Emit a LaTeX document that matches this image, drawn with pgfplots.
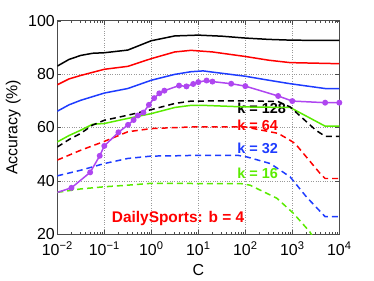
\documentclass[border=0pt]{standalone}
\usepackage{pgfplots}
\pgfplotsset{compat=1.18}
\usepackage{fontspec}
\setmainfont{Liberation Sans}
\definecolor{mblue}{RGB}{30,60,255}
\definecolor{mgreen}{RGB}{90,235,0}
\definecolor{mpurple}{RGB}{175,70,240}
\begin{document}
\begin{tikzpicture}
\useasboundingbox (-57.3bp,-46.7bp) rectangle (316.7bp,234.3bp);
\begin{axis}[
  at={(0,0)}, anchor=south west,
  scale only axis, width=282bp, height=213.6bp,
  xmode=log, xmin=0.01, xmax=10000, ymin=20, ymax=100,
  xtick={0.01,0.1,1,10,100,1000,10000},
  xticklabels={10\textsuperscript{−2},10\textsuperscript{−1},10\textsuperscript{0},10\textsuperscript{1},10\textsuperscript{2},10\textsuperscript{3},10\textsuperscript{4}},
  ytick={20,40,60,80,100},
  yticklabels={20,40,60,80,100},
  tick label style={font=\fontsize{16}{18}\selectfont},
  yticklabel style={xshift=1bp},
  xticklabel style={yshift=-4bp},
  xlabel={C}, ylabel={Accuracy (\%)},
  label style={font=\fontsize{16}{18}\selectfont},
  xlabel style={at={(axis description cs:0.5,-0.1695)}, anchor=center},
  ylabel style={at={(axis description cs:-0.156,0.5)}, anchor=center},
  grid=major, major grid style={dotted, gray!80, line width=0.5pt},
  tick align=inside, major tick length=4bp, minor tick length=2.5bp,
  axis line style={gray!60!black, line width=0.7pt},
  tick style={gray!60!black},
  every axis plot/.append style={line width=1.5pt},
  clip=true,
]
\node[anchor=west, font=\bfseries\fontsize{14.5}{16}\selectfont, text=black] at (axis cs:57,67.3) {k = 128};
\node[anchor=west, font=\bfseries\fontsize{14.5}{16}\selectfont, text=red] at (axis cs:57,60.9) {k = 64};
\node[anchor=west, font=\bfseries\fontsize{14.5}{16}\selectfont, text=mblue] at (axis cs:57,52.1) {k = 32};
\node[anchor=west, font=\bfseries\fontsize{14.5}{16}\selectfont, text=mgreen] at (axis cs:57,42.8) {k = 16};
\node[font=\bfseries\fontsize{15.5}{17}\selectfont, text=red] at (axis cs:3.7,25.8) {DailySports: b = 4};
% solid
\addplot[black] coordinates {(0.01,83) (0.0178,85.5) (0.0316,87) (0.0562,87.8) (0.1,88) (0.316,89) (1,92.5) (3.16,94.3) (10,94.6) (31.6,94.2) (100,93.5) (316,93) (1000,92.7) (10000,92.6)};
\addplot[red] coordinates {(0.01,76) (0.0178,78.2) (0.0316,79.5) (0.1,81.8) (0.316,82.9) (1,85.8) (3.16,88.3) (7,88.9) (20,88.3) (100,86.6) (316,85.2) (900,84.3) (10000,83.9)};
\addplot[mblue] coordinates {(0.01,66.1) (0.0178,68.5) (0.0316,70.2) (0.1,72.9) (0.316,74.6) (1,77.7) (3.16,79.9) (7,80.9) (12.6,81.2) (100,79.2) (316,77.7) (900,76.4) (5000,74.6) (10000,74.6)};
\addplot[mgreen] coordinates {(0.01,54.6) (0.0178,57) (0.0316,59) (0.0562,61.2) (0.1,61.5) (0.316,63.4) (1,65.2) (3.16,67.5) (7,68.3) (12.6,68.3) (100,67.7) (900,67.5) (5000,60.5) (10000,60.5)};
% dashed
\addplot[black, dash pattern=on 6bp off 4bp] coordinates {(0.01,52.7) (0.0178,55.5) (0.0316,57.8) (0.0562,60.9) (0.1,62.7) (0.316,64.6) (1,66.7) (3.16,69) (7,69.9) (100,70) (500,69.7) (900,67.7) (3160,59) (5000,56.7) (10000,56.7)};
\addplot[red, dash pattern=on 6bp off 4bp] coordinates {(0.01,47.8) (0.0316,51.5) (0.1,54.8) (0.316,58.4) (1,59.6) (7,60.2) (100,60.2) (500,57.8) (900,55.2) (1150,54) (3900,42.8) (5000,40.9) (10000,40.9)};
\addplot[mblue, dash pattern=on 6bp off 4bp] coordinates {(0.01,41.9) (0.0316,44) (0.1,46.5) (0.316,48.4) (1,49.3) (3.16,49.4) (10,49.6) (68,49.6) (107,49) (340,46.5) (900,41.5) (2000,34) (5000,26.6) (10000,26.6)};
\addplot[mgreen, dash pattern=on 6bp off 4bp] coordinates {(0.01,35.7) (0.0316,37) (0.1,37.8) (0.316,38.4) (1,39.1) (3.16,39.1) (10,39) (80,39) (126,38.4) (470,33.5) (1050,27.9) (2340,21) (5000,12) (10000,12)};
% purple
\addplot[mpurple, mark=*, mark size=2.2pt, mark indices={2,...,26}] coordinates {
(0.01,35.7) (0.02,37.4) (0.05,43.2) (0.08,49.4) (0.1,53.1) (0.2,58.2) (0.32,61.0) (0.42,62.8) (0.52,64.5) (0.68,65.6) (0.89,68.5) (1.15,71.0) (1.48,72.8) (1.9,73.8) (3.9,75.7) (5.6,75.4) (7.8,76.3) (10,77.0) (15,77.6) (20,77.2) (50,76.4) (100,75.5) (500,71.8) (1000,69.9) (5000,69.3) (10000,69.3)};
\end{axis}
\end{tikzpicture}
\end{document}
